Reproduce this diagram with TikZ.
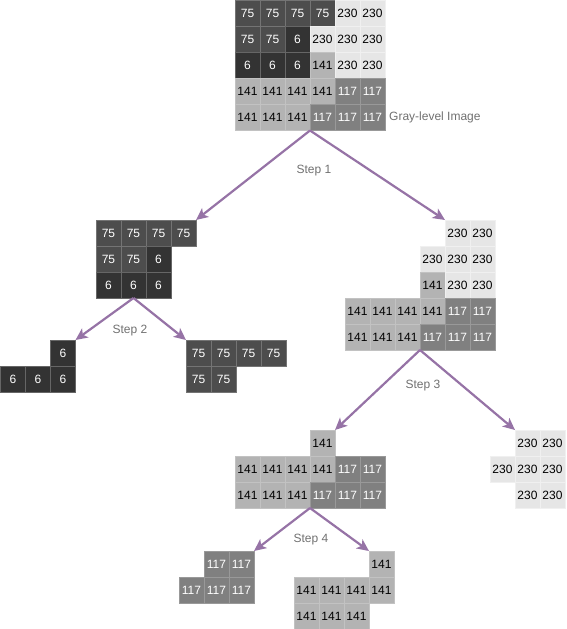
\documentclass[tikz,border=0pt]{standalone}
\usepackage{fontspec}
\setmainfont{Liberation Sans}
\usetikzlibrary{arrows.meta,positioning}
\definecolor{lvsix}{RGB}{51,51,51}
\definecolor{lvseventy}{RGB}{77,77,77}
\definecolor{lvhundred}{RGB}{128,128,128}
\definecolor{lvforty}{RGB}{179,179,179}
\definecolor{lvthirty}{RGB}{230,230,230}
\definecolor{splitpurple}{RGB}{150,115,166}
\definecolor{lblgray}{RGB}{112,112,112}
\tikzset{
  cell/.style  = {draw, line width=0.8pt, minimum width=25pt, minimum height=26pt,
                  inner sep=0pt, outer sep=0pt, font=\fontsize{12}{14}\selectfont},
  g6/.style    = {cell, fill=lvsix, draw=white!25!lvsix, text=white},
  g75/.style   = {cell, fill=lvseventy, draw=white!22!lvseventy, text=white},
  g117/.style  = {cell, fill=lvhundred, draw=white!20!lvhundred, text=white},
  g141/.style  = {cell, fill=lvforty, draw=white!20!lvforty, text=black},
  g230/.style  = {cell, fill=lvthirty, draw=white!40!lvthirty, text=black},
  splitar/.style = {-{Stealth[length=12pt, width=11pt, inset=3pt]},
                  line width=2.2pt, draw=splitpurple, line join=round},
  lbl/.style   = {font=\fontsize{12}{14}\selectfont, text=lblgray, inner sep=1pt},
}
% name, left, top, list of row/col/value
\newcommand{\graygrid}[4]{%
  \foreach \r/\c/\v in {#4}{
    \node[g\v] (#1-\r-\c) at ({#2+12.5+25*\c},{#3+13+26*\r}) {\v};
  }
}

\begin{document}
\begin{tikzpicture}[x=1pt, y=-1pt]
  \useasboundingbox (0,0) rectangle (566,629);

  % the whole image
  \graygrid{a}{235}{0.5}{0/0/75,0/1/75,0/2/75,0/3/75,0/4/230,0/5/230,
    1/0/75,1/1/75,1/2/6,1/3/230,1/4/230,1/5/230,
    2/0/6,2/1/6,2/2/6,2/3/141,2/4/230,2/5/230,
    3/0/141,3/1/141,3/2/141,3/3/141,3/4/117,3/5/117,
    4/0/141,4/1/141,4/2/141,4/3/117,4/4/117,4/5/117}
  \node[lbl, right=3pt of a-4-5] (imglabel) {Gray-level Image};

  % step 1
  \graygrid{b}{96}{220}{0/0/75,0/1/75,0/2/75,0/3/75,
    1/0/75,1/1/75,1/2/6,
    2/0/6,2/1/6,2/2/6}
  \graygrid{e}{345}{220}{0/4/230,0/5/230,
    1/3/230,1/4/230,1/5/230,
    2/3/141,2/4/230,2/5/230,
    3/0/141,3/1/141,3/2/141,3/3/141,3/4/117,3/5/117,
    4/0/141,4/1/141,4/2/141,4/3/117,4/4/117,4/5/117}
  \draw[splitar] (a-4-2.south east) -- (b-0-3.north east);
  \draw[splitar] (a-4-2.south east) -- (e-0-4.north west);
  \node[lbl] (stepone) at (314,171) {Step 1};

  % step 2
  \graygrid{c}{0.5}{340}{0/2/6,1/0/6,1/1/6,1/2/6}
  \graygrid{d}{186}{340}{0/0/75,0/1/75,0/2/75,0/3/75,1/0/75,1/1/75}
  \draw[splitar] (b-2-1.south) -- (c-0-2.north east);
  \draw[splitar] (b-2-1.south) -- (d-0-0.north west);
  \node[lbl] (steptwo) at (130,331) {Step 2};

  % step 3
  \graygrid{f}{235}{430}{0/3/141,
    1/0/141,1/1/141,1/2/141,1/3/141,1/4/117,1/5/117,
    2/0/141,2/1/141,2/2/141,2/3/117,2/4/117,2/5/117}
  \graygrid{g}{490}{430}{0/1/230,0/2/230,1/0/230,1/1/230,1/2/230,2/1/230,2/2/230}
  \draw[splitar] (e-4-2.south east) -- (f-0-3.north east);
  \draw[splitar] (e-4-2.south east) -- (g-0-1.north west);
  \node[lbl] (stepthree) at (423,386) {Step 3};

  % step 4
  \graygrid{h}{179}{551}{0/1/117,0/2/117,1/0/117,1/1/117,1/2/117}
  \graygrid{i}{294}{551}{0/3/141,1/0/141,1/1/141,1/2/141,1/3/141,
    2/0/141,2/1/141,2/2/141}
  \draw[splitar] (f-2-2.south east) -- (h-0-2.north east);
  \draw[splitar] (f-2-2.south east) -- (i-0-3.north west);
  \node[lbl] (stepfour) at (311,540) {Step 4};
\end{tikzpicture}
\end{document}
